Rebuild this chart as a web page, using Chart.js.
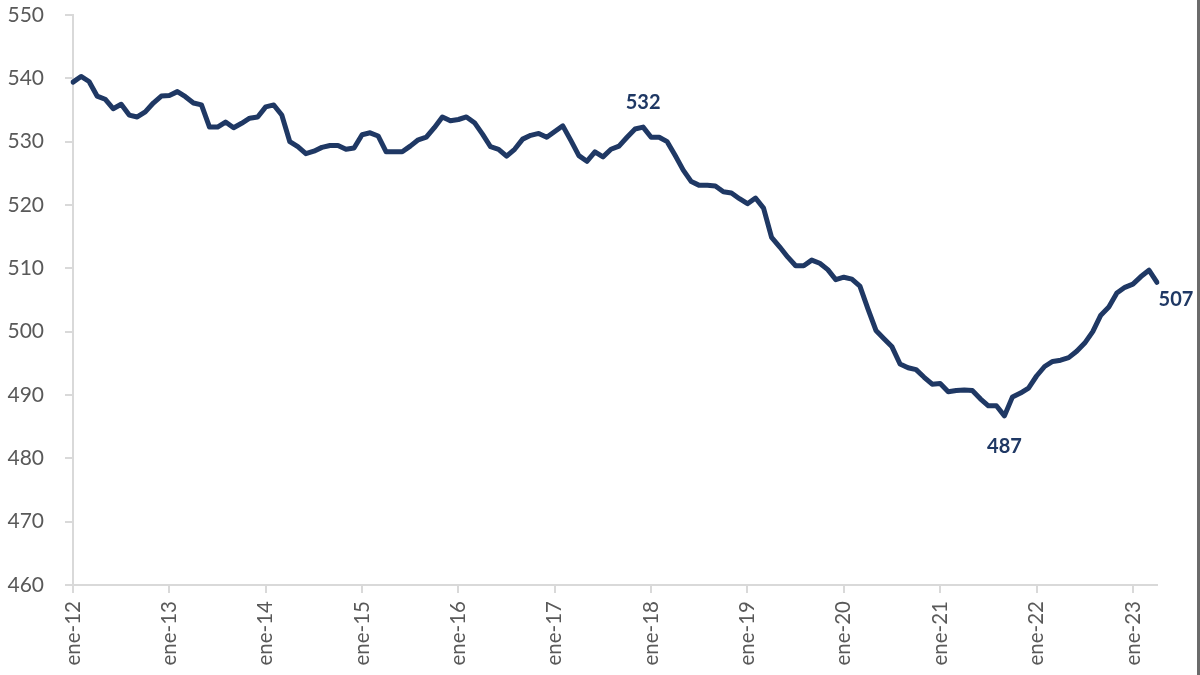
<!DOCTYPE html>
<html>
<head>
<meta charset="utf-8">
<script src="https://cdn.jsdelivr.net/npm/chart.js@4/dist/chart.umd.min.js"></script>
<style>
  html, body { margin: 0; padding: 0; background: #fff; }
  #wrap { position: relative; width: 1200px; height: 675px; box-sizing: border-box; border-right: 3px solid #6b6b6b; }
  canvas { display: block; }
</style>
</head>
<body>
<div id="wrap"><canvas id="c" width="1197" height="675"></canvas></div>
<script>
const monthNames = ["ene","feb","mar","abr","may","jun","jul","ago","sep","oct","nov","dic"];
const startYear = 2012;
const months = [];
for (let i = 0; i < 136; i++) {
  const y = startYear + Math.floor(i / 12);
  months.push(monthNames[i % 12] + "-" + String(y).slice(2));
}

const values = [
  539.4, 540.3, 539.5, 537.2, 536.7, 535.2, 535.9, 534.2, 533.9, 534.7, 536.1, 537.2,
  537.3, 537.9, 537.1, 536.1, 535.8, 532.3, 532.3, 533.1, 532.2, 532.9, 533.7, 533.9,
  535.5, 535.8, 534.2, 530.0, 529.2, 528.1, 528.5, 529.1, 529.4, 529.4, 528.8, 529.0,
  531.1, 531.4, 530.9, 528.4, 528.4, 528.4, 529.3, 530.3, 530.7, 532.2, 533.9, 533.3,
  533.5, 533.9, 533.0, 531.2, 529.2, 528.8, 527.7, 528.8, 530.4, 531.0, 531.3, 530.7,
  531.6, 532.5, 530.2, 527.8, 526.9, 528.4, 527.6, 528.8, 529.3, 530.7, 532.0, 532.3,
  530.7, 530.7, 530.0, 527.8, 525.5, 523.7, 523.1, 523.1, 523.0, 522.1, 521.9, 521.0,
  520.2, 521.1, 519.5, 514.9, 513.4, 511.8, 510.4, 510.4, 511.3, 510.8, 509.8, 508.2,
  508.6, 508.3, 507.2, 503.6, 500.2, 498.9, 497.6, 494.9, 494.3, 494.0, 492.8, 491.7,
  491.8, 490.5, 490.7, 490.8, 490.7, 489.4, 488.3, 488.3, 486.7, 489.7, 490.3, 491.1,
  493.0, 494.5, 495.3, 495.5, 495.9, 496.9, 498.2, 500.0, 502.6, 503.9, 506.1, 507.0,
  507.5, 508.7, 509.7, 507.8
];

const yTicks = [460, 470, 480, 490, 500, 510, 520, 530, 540, 550];

// annotated points: index, text, offset
const annotations = [
  { index: 71, text: "532", dx: 0, dy: -25 },
  { index: 116, text: "487", dx: 0, dy: 31 },
  { index: 135, text: "507", dx: 19, dy: 17 }
];

const lineColor = "#1f3864";
const tickColor = "#595959";
const axisColor = "#d9d9d9";

const labelPlugin = {
  id: "pointLabels",
  afterDatasetsDraw(chart) {
    const { ctx, scales } = chart;
    ctx.save();
    ctx.font = "bold 20px Lato, 'Open Sans', sans-serif";
    ctx.fillStyle = lineColor;
    ctx.textAlign = "center";
    ctx.textBaseline = "middle";
    annotations.forEach(a => {
      const x = scales.x.getPixelForValue(a.index);
      const y = scales.y.getPixelForValue(values[a.index]);
      ctx.fillText(a.text, x + a.dx, y + a.dy);
    });
    ctx.restore();
  }
};

new Chart(document.getElementById("c"), {
  type: "line",
  data: {
    labels: months,
    datasets: [{
      data: values,
      borderColor: lineColor,
      borderWidth: 5,
      pointRadius: 0,
      tension: 0,
      fill: false,
      borderJoinStyle: "round",
      borderCapStyle: "round"
    }]
  },
  options: {
    responsive: false,
    animation: false,
    devicePixelRatio: 1,
    layout: { padding: { top: 0, right: 40, left: 0, bottom: 0 } },
    plugins: { legend: { display: false }, tooltip: { enabled: false } },
    scales: {
      x: {
        type: "category",
        offset: false,
        afterFit(scale) { scale.height = 90; },
        grid: {
          display: true,
          drawOnChartArea: false,
          drawTicks: true,
          tickLength: 8,
          color: axisColor,
          lineWidth: 2
        },
        border: { display: true, color: axisColor, width: 2 },
        ticks: {
          autoSkip: false,
          maxRotation: 90,
          minRotation: 90,
          padding: 8,
          color: tickColor,
          font: { family: "Lato, 'Open Sans', sans-serif", size: 20.5 },
          callback(value, index) {
            return index % 12 === 0 ? months[index] : null;
          }
        }
      },
      y: {
        min: 460,
        max: 550,
        afterFit(scale) { scale.width = 73; scale.paddingTop = 15; scale.paddingBottom = 0; },
        afterBuildTicks(scale) { scale.ticks = yTicks.map(v => ({ value: v })); },
        grid: {
          display: true,
          drawOnChartArea: false,
          drawTicks: true,
          tickLength: 8,
          color: axisColor,
          lineWidth: 2
        },
        border: { display: true, color: axisColor, width: 2 },
        ticks: {
          padding: 21,
          color: tickColor,
          font: { family: "Lato, 'Open Sans', sans-serif", size: 21 }
        }
      }
    }
  },
  plugins: [labelPlugin]
});
</script>
</body>
</html>
